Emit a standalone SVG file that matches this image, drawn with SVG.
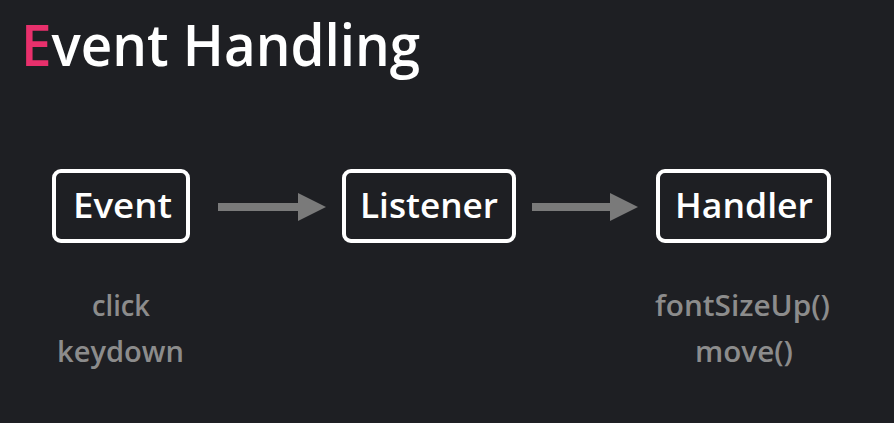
<svg xmlns="http://www.w3.org/2000/svg" width="894" height="423" viewBox="0 0 894 423">
<defs>
<style>
.bg{fill:#1e1f23}
.box{fill:#1e1f23;stroke:#ffffff;stroke-width:4}
.lbl{font-family:"Open Sans","Noto Sans",sans-serif;font-weight:600;font-size:34px;fill:#ffffff;text-anchor:middle}
.sub{font-family:"Open Sans","Noto Sans",sans-serif;font-weight:600;font-size:28px;fill:#8c8c8c;text-anchor:middle}
.conn{stroke:#7a7a7a;stroke-width:8;fill:none}
.head{fill:#7a7a7a}
</style>
</defs>
<rect class="bg" x="0" y="0" width="894" height="423"/>
<text x="21" y="66" font-family="'Open Sans','Noto Sans',sans-serif" font-weight="600" font-size="57" fill="#ffffff" textLength="399" lengthAdjust="spacingAndGlyphs"><tspan fill="#e8306c">E</tspan>vent Handling</text>
<g id="connectors">
<line class="conn" x1="218" y1="207" x2="300" y2="207"/>
<polygon class="head" points="298,193 326,207 298,221"/>
<line class="conn" x1="532" y1="207" x2="612" y2="207"/>
<polygon class="head" points="610,193 638,207 610,221"/>
</g>
<g id="event">
<rect class="box" x="54" y="171" width="134" height="70" rx="7"/>
<text class="lbl" x="122.5" y="218" textLength="99" lengthAdjust="spacingAndGlyphs">Event</text>
</g>
<g id="listener">
<rect class="box" x="344" y="171" width="170" height="70" rx="7"/>
<text class="lbl" x="429" y="218" textLength="138" lengthAdjust="spacingAndGlyphs">Listener</text>
</g>
<g id="handler">
<rect class="box" x="658" y="171" width="171" height="70" rx="7"/>
<text class="lbl" x="744" y="218" textLength="138" lengthAdjust="spacingAndGlyphs">Handler</text>
</g>
<g id="event-examples">
<text class="sub" x="121" y="316" textLength="58" lengthAdjust="spacingAndGlyphs">click</text>
<text class="sub" x="120.5" y="362" textLength="127" lengthAdjust="spacingAndGlyphs">keydown</text>
</g>
<g id="handler-examples">
<text class="sub" x="742.5" y="316" textLength="175" lengthAdjust="spacingAndGlyphs">fontSizeUp()</text>
<text class="sub" x="744" y="362" textLength="98" lengthAdjust="spacingAndGlyphs">move()</text>
</g>
</svg>
